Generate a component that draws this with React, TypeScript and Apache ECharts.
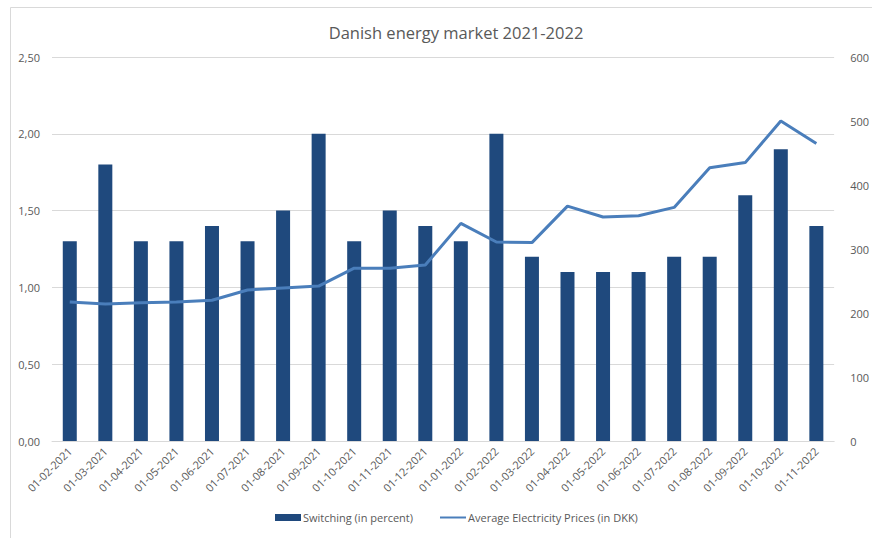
import React, { useEffect, useRef } from "react";
import * as echarts from "echarts";

const categories = [
  "01-02-2021", "01-03-2021", "01-04-2021", "01-05-2021", "01-06-2021", "01-07-2021",
  "01-08-2021", "01-09-2021", "01-10-2021", "01-11-2021", "01-12-2021", "01-01-2022",
  "01-02-2022", "01-03-2022", "01-04-2022", "01-05-2022", "01-06-2022", "01-07-2022",
  "01-08-2022", "01-09-2022", "01-10-2022", "01-11-2022",
];

const switchingPercent = [
  1.3, 1.8, 1.3, 1.3, 1.4, 1.3, 1.5, 2.0, 1.3, 1.5, 1.4, 1.3,
  2.0, 1.2, 1.1, 1.1, 1.1, 1.2, 1.2, 1.6, 1.9, 1.4,
];

const avgPriceDKK = [
  217, 214, 216, 217, 220, 236, 239, 242, 270, 270, 275, 340,
  311, 310, 367, 350, 352, 365, 427, 435, 500, 465,
];

const FONT = "'Open Sans', 'Noto Sans', sans-serif";
const TEXT = "#595959";
const GRID = "#d9d9d9";

export default function App() {
  const ref = useRef<HTMLDivElement>(null);
  useEffect(() => {
    if (!ref.current) return;
    const chart = echarts.init(ref.current, undefined, { renderer: "svg" });
    chart.setOption({
      animation: false,
      backgroundColor: "#ffffff",
      textStyle: { fontFamily: FONT },
      title: {
        text: "Danish energy market 2021-2022",
        left: 451,
        top: 19,
        textAlign: "center",
        textStyle: { fontFamily: FONT, fontSize: 16.5, fontWeight: "normal", color: TEXT },
      },
      graphic: [
        {
          type: "rect",
          shape: { x: 10.5, y: 7.5, width: 1000, height: 560 },
          style: { fill: "none", stroke: "#d9d9d9", lineWidth: 1 },
          silent: true,
        },
      ],
      legend: {
        bottom: 10,
        left: 270,
        itemGap: 26,
        itemWidth: 26,
        itemHeight: 7,
        textStyle: { fontFamily: FONT, fontSize: 11, color: TEXT, padding: [0, 0, 0, -3] },
        data: [
          { name: "Switching (in percent)", icon: "rect" },
          { name: "Average Electricity Prices (in DKK)", itemStyle: { opacity: 0 } },
        ],
      },
      grid: { left: 52, right: 27, top: 57, bottom: 97 },
      xAxis: {
        type: "category",
        data: categories,
        axisLine: { lineStyle: { color: GRID } },
        axisTick: { show: false },
        axisLabel: { rotate: 45, color: TEXT, fontSize: 11, fontFamily: FONT, margin: 8, interval: 0 },
      },
      yAxis: [
        {
          type: "value",
          min: 0,
          max: 2.5,
          interval: 0.5,
          axisLine: { show: false },
          axisTick: { show: false },
          splitLine: { lineStyle: { color: GRID } },
          axisLabel: {
            color: TEXT,
            fontSize: 11,
            fontFamily: FONT,
            margin: 12,
            formatter: (v: number) => v.toFixed(2).replace(".", ","),
          },
        },
        {
          type: "value",
          min: 0,
          max: 600,
          interval: 100,
          axisLine: { show: false },
          axisTick: { show: false },
          splitLine: { show: false },
          axisLabel: { color: TEXT, fontSize: 11, fontFamily: FONT, margin: 16 },
        },
      ],
      series: [
        {
          name: "Switching (in percent)",
          type: "bar",
          data: switchingPercent,
          barWidth: 14,
          itemStyle: { color: "#1F497D" },
          yAxisIndex: 0,
        },
        {
          name: "Average Electricity Prices (in DKK)",
          type: "line",
          data: avgPriceDKK,
          yAxisIndex: 1,
          symbol: "none",
          lineStyle: { color: "#4A7EBB", width: 3 },
          itemStyle: { color: "#4A7EBB" },
        },
      ],
    });
    return () => chart.dispose();
  }, []);
  return <div ref={ref} style={{ width: 872, height: 538, position: "absolute", left: 0, top: 0 }} />;
}
